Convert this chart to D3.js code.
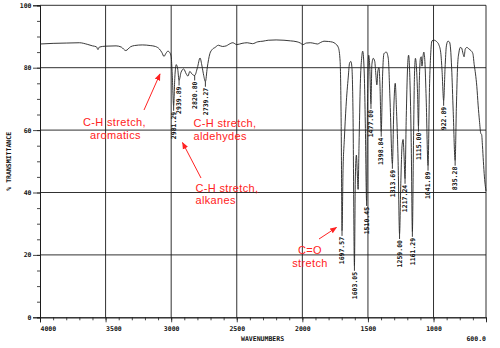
<!DOCTYPE html>
<html>
<head>
<meta charset="utf-8">
<script src="https://cdn.jsdelivr.net/npm/d3@7"></script>
<style>
  body { margin: 0; background: #fff; }
  svg text.mono { font-family: "DejaVu Sans Mono", monospace; font-weight: bold; font-size: 6.5px; fill: #111; }
  svg text.note { font-family: "Liberation Sans", Arial, sans-serif; font-size: 11px; letter-spacing: 0.35px; fill: #ff2222; }
</style>
</head>
<body>
<svg id="chart" width="500" height="348"></svg>
<script>
// IR spectrum: wavenumber (cm-1) vs % transmittance
const wavenumbers = [
  4000,3900,3800,3700,3640,3600,3570,3558,3548,3500,3420,3380,3346,3310,3280,3220,3160,3120,3090,3070,
  3055,3040,3025,3010,3000,2992,2972,2962,2950,2925,2905,2885,2872,2858,2842,2800,2780,2765,2752,2725,
  2705,2688,2665,2640,2610,2580,2560,2530,2500,2460,2420,2380,2340,2300,2260,2200,2140,2090,2040,2015,
  1995,1970,1940,1910,1885,1860,1835,1800,1770,1748,1725,1712,1704,1690,1680,1667,1650,1640,1630,1622,
  1614,1596,1588,1580,1575,1568,1558,1548,1540,1528,1520,1503,1494,1486,1470,1460,1448,1440,1432,1424,
  1416,1408,1388,1378,1360,1345,1332,1302,1292,1282,1270,1250,1240,1232,1225,1208,1198,1190,1180,1170,
  1153,1145,1138,1130,1122,1108,1100,1094,1088,1082,1074,1066,1056,1030,1022,1012,995,975,960,945,
  935,912,902,890,878,870,862,850,826,816,806,796,786,775,767,758,745,730,715,700,
  690,680,670,660,650,640,633,627,620,612,605,600
];
const transmittance = [
  87.6,87.8,87.9,88.0,87.5,87.0,86.7,85.8,86.6,86.9,87.0,86.6,85.5,86.7,87.1,87.3,87.1,86.8,86.0,84.8,
  83.6,84.6,85.3,84.8,83.5,78,77,81,79.5,78.5,79.6,78,77.3,78.8,78,80,83.1,80.5,77.5,80,
  84.5,85.8,86.5,87.2,86.8,87.0,87.5,88.0,87.4,87.8,88.0,87.7,88.3,88.5,88.8,88.9,88.8,88.6,88.3,87.9,
  87.4,87.9,88.0,87.8,87.6,88.1,88.5,88.4,88.2,87.7,86.4,82,62,47,57,67.6,77,81.5,82,80,
  66,45,52,45,41,55,75,83,85.3,78,62,70,84,80,81,83,82,78,74.5,79,
  80,74,78,84.5,85,83,70,68,75,66,50,42,55,57,52,64,80,84,76,56,
  55,78,83,80,72,76,83,83.5,80.5,83,85,82,70,75,84,88.6,88.8,88.3,87.4,84.8,
  79,80,87,88.5,88.2,86,80,66,67,81,85,86.5,86.3,84.5,83.5,86,86.5,86,85.5,84.5,
  81,78,74,68,63,59,58.5,55,50,45,42,40.5
];

// labelled absorption bands
const peakWavenumbers = [2981.29, 2939.89, 2820.80, 2739.27, 1697.57, 1603.05, 1510.45, 1477.00,
  1398.84, 1313.69, 1259.00, 1217.24, 1161.29, 1115.00, 1041.89, 922.89, 835.28];
const peakTransmittance = [67.8, 75.9, 77.5, 75.5, 27.7, 16.5, 37.3, 68.4,
  59.5, 49.2, 26.7, 44.4, 27.4, 61.1, 48.6, 69.4, 50.2];

const xTickValues = [4000, 3500, 3000, 2500, 2000, 1500, 1000];
const yTickValues = [0, 20, 40, 60, 80, 100];
const xEndLabel = "600.0";
const xTitle = "WAVENUMBERS";
const yTitle = "% TRANSMITTANCE";

const noteAromatic = ["C-H stretch,", "aromatics"];
const noteAldehyde = ["C-H stretch,", "aldehydes"];
const noteAlkane = ["C-H stretch,", "alkanes"];
const noteCarbonyl = ["C=O", "stretch"];

// ---- layout ----
const svg = d3.select("#chart");
const plotLeft = 40, plotRight = 486, plotTop = 5.3, plotBottom = 317.3;
const x = d3.scaleLinear().domain([4000, 600]).range([plotLeft, plotRight]);
const y = d3.scaleLinear().domain([0, 100]).range([plotBottom, plotTop]);
const ink = "#1a1a1a";

// grid lines and frame
const g = svg.append("g");
g.selectAll("line.hgrid").data([20, 40, 60, 80, 100]).join("line")
  .attr("x1", plotLeft).attr("x2", plotRight)
  .attr("y1", d => y(d)).attr("y2", d => y(d))
  .attr("stroke", ink).attr("stroke-width", 0.9);
g.selectAll("line.vgrid").data([3500, 3000, 2500, 2000, 1500, 1000, 600]).join("line")
  .attr("x1", d => x(d)).attr("x2", d => x(d))
  .attr("y1", plotTop).attr("y2", plotBottom)
  .attr("stroke", ink).attr("stroke-width", 0.9);

// y axis: major ticks with labels, minor ticks every 5 %
const yMinor = svg.append("g").attr("transform", `translate(${plotLeft},0)`)
  .call(d3.axisLeft(y).tickValues(d3.range(0, 101, 5)).tickSize(3).tickFormat(""));
const yAxis = svg.append("g").attr("transform", `translate(${plotLeft},0)`)
  .call(d3.axisLeft(y).tickValues(yTickValues).tickSize(7).tickPadding(1.5).tickFormat(d3.format("d")));
yAxis.selectAll("text").attr("class", "mono").attr("fill", null);

// x axis: major ticks with labels, minor ticks every 100 cm-1
const xMinor = svg.append("g").attr("transform", `translate(0,${plotBottom})`)
  .call(d3.axisBottom(x).tickValues(d3.range(4000, 599, -100)).tickSize(3).tickFormat(""));
const xAxis = svg.append("g").attr("transform", `translate(0,${plotBottom})`)
  .call(d3.axisBottom(x).tickValues(xTickValues).tickSize(5).tickPadding(4).tickFormat(d3.format("d")));
xAxis.selectAll("text").attr("class", "mono").attr("fill", null)
  .attr("text-anchor", d => (d >= 3500 ? "start" : "middle"));
[yMinor, yAxis, xMinor, xAxis].forEach(a => {
  a.select(".domain").attr("stroke", ink).attr("stroke-width", 0.9);
  a.selectAll(".tick line").attr("stroke", ink).attr("stroke-width", 0.8);
});

svg.append("text").attr("class", "mono")
  .attr("x", plotRight).attr("y", 341).attr("text-anchor", "end").text(xEndLabel);
svg.append("text").attr("class", "mono")
  .attr("x", (x(2500) + x(2000)) / 2 - 7).attr("y", 341).attr("text-anchor", "middle").text(xTitle);
svg.append("text").attr("class", "mono")
  .attr("transform", `translate(11,${y(50)}) rotate(-90)`)
  .attr("text-anchor", "middle").text(yTitle);

// spectrum trace: survey points merged with the labelled band minima
const trace = wavenumbers.map((w, i) => ({ w, t: transmittance[i] }))
  .concat(peakWavenumbers.map((w, i) => ({ w, t: peakTransmittance[i] })))
  .sort((a, b) => b.w - a.w);
const line = d3.line().x(d => x(d.w)).y(d => y(d.t)).curve(d3.curveMonotoneX);
svg.append("path").datum(trace)
  .attr("d", line).attr("fill", "none")
  .attr("stroke", "#222").attr("stroke-width", 0.9).attr("stroke-linejoin", "round");

// band labels hanging below each minimum
const peaks = peakWavenumbers.map((w, i) => ({ w, t: peakTransmittance[i] }));
const pg = svg.append("g").selectAll("g").data(peaks).join("g");
pg.append("line")
  .attr("x1", d => x(d.w)).attr("x2", d => x(d.w))
  .attr("y1", d => y(d.t)).attr("y2", d => y(d.t) + 5)
  .attr("stroke", "#222").attr("stroke-width", 0.9);
pg.append("text").attr("class", "mono")
  .attr("transform", d => `translate(${x(d.w)},${y(d.t) + 6}) rotate(-90)`)
  .attr("text-anchor", "end").attr("dy", "0.35em")
  .text(d => d3.format(".2f")(d.w));

// annotations
const red = "#ff2222";
svg.append("defs").append("marker")
  .attr("id", "head").attr("viewBox", "0 0 10 10").attr("refX", 9).attr("refY", 5)
  .attr("markerWidth", 7).attr("markerHeight", 7).attr("orient", "auto")
  .append("path").attr("d", "M0,1 L10,5 L0,9 Z").attr("fill", red);

function arrow(x1, y1, x2, y2) {
  svg.append("line").attr("x1", x1).attr("y1", y1).attr("x2", x2).attr("y2", y2)
    .attr("stroke", red).attr("stroke-width", 1).attr("marker-end", "url(#head)");
}
// two-line note as one text block
function note(lines, xs, y0, lineGap, anchor) {
  const t = svg.append("text").attr("class", "note").attr("text-anchor", anchor);
  lines.forEach((s, i) => {
    t.append("tspan").attr("x", xs[i]).attr("y", y0 + i * lineGap).text(s);
  });
}
note(noteAromatic, [83, 90], 126, 12.8, "start");
note(noteAldehyde, [193.5, 193.5], 127, 12.8, "start");
note(noteAlkane, [195.5, 195.5], 191.5, 12.8, "start");
note(noteCarbonyl, [310, 310], 253.5, 13, "middle");
arrow(144, 110, 160, 74);
arrow(201, 178, 182.5, 142.5);
arrow(319, 239, 336.5, 227.5);
</script>
</body>
</html>
